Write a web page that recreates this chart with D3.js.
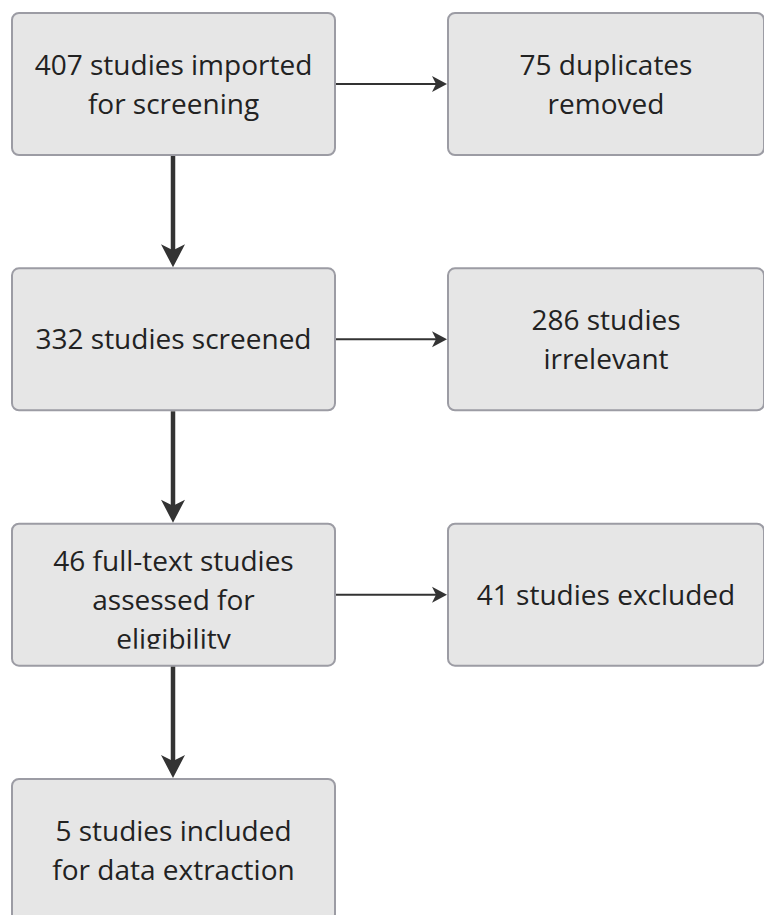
<!DOCTYPE html>
<html>
<head>
<meta charset="utf-8">
<script src="https://cdn.jsdelivr.net/npm/d3@7"></script>
<style>
  html, body { margin: 0; padding: 0; background: #ffffff; }
  svg { display: block; }
</style>
</head>
<body>
<div id="chart"></div>
<script>
// ---- data ----
const mainLabels = [
  ["407 studies imported", "for screening"],
  ["332 studies screened"],
  ["46 full-text studies", "assessed for", "eligibility"],
  ["5 studies included", "for data extraction"]
];
const sideLabels = [
  ["75 duplicates", "removed"],
  ["286 studies", "irrelevant"],
  ["41 studies excluded"]
];
const stageIndex = [0, 1, 2, 3];
const columns = ["main", "side"];

// ---- layout ----
const W = 764, H = 915;
const boxH = 142;
const rowY = d3.scaleLinear().domain([0, 3]).range([13, 779]);
const colX = d3.scaleOrdinal().domain(columns).range([12, 448]);
const colW = d3.scaleOrdinal().domain(columns).range([323, 316]);

const fontSize = 28, lineH = 39;

const svg = d3.select("#chart").append("svg")
  .attr("width", W).attr("height", H)
  .style("font-family", "'Open Sans', 'Noto Sans', sans-serif");

const defs = svg.append("defs");

function drawBox(g, col, i, lines) {
  const x = colX(col), y = rowY(i), w = colW(col);
  g.append("rect")
    .attr("x", x).attr("y", y).attr("width", w).attr("height", boxH)
    .attr("rx", 7).attr("ry", 7)
    .attr("fill", "#e6e6e6").attr("stroke", "#9c9ca4").attr("stroke-width", 2);
  const id = `clip-${col}-${i}`;
  defs.append("clipPath").attr("id", id).append("rect")
    .attr("x", x).attr("y", y + 4).attr("width", w).attr("height", boxH - 21);
  const cy = y + boxH / 2;
  const n = lines.length;
  const t = g.append("text")
    .attr("clip-path", `url(#${id})`)
    .attr("text-anchor", "middle")
    .attr("font-size", fontSize)
    .attr("fill", "#222222");
  lines.forEach((ln, k) => {
    const base = cy + (k - (n - 1) / 2) * lineH + fontSize * 0.36 + (n === 3 ? 5 : 0);
    t.append("tspan").attr("x", x + w / 2).attr("y", base).text(ln);
  });
}

const boxes = svg.append("g");
stageIndex.forEach(i => drawBox(boxes, "main", i, mainLabels[i]));
sideLabels.forEach((lines, i) => drawBox(boxes, "side", i, lines));

// ---- arrows ----
const arrows = svg.append("g").attr("fill", "#333333").attr("stroke", "#333333");
const cxMain = colX("main") + 161;

// vertical arrows between main boxes
stageIndex.slice(0, -1).forEach(i => {
  const y0 = rowY(i) + boxH + 1;
  const y1 = rowY(i + 1) - 1;
  arrows.append("line")
    .attr("x1", cxMain).attr("x2", cxMain).attr("y1", y0).attr("y2", y1 - 12)
    .attr("stroke-width", 4.5);
  arrows.append("path")
    .attr("stroke", "none")
    .attr("d", `M${cxMain},${y1} L${cxMain - 12},${y1 - 23} L${cxMain},${y1 - 17} L${cxMain + 12},${y1 - 23} Z`);
});

// horizontal arrows to side boxes
sideLabels.forEach((_, i) => {
  const yc = rowY(i) + boxH / 2;
  const x0 = colX("main") + colW("main") + 1;
  const x1 = colX("side") - 1;
  arrows.append("line")
    .attr("x1", x0).attr("x2", x1 - 8).attr("y1", yc).attr("y2", yc)
    .attr("stroke-width", 2);
  arrows.append("path")
    .attr("stroke", "none")
    .attr("d", `M${x1},${yc} L${x1 - 15},${yc - 8} L${x1 - 11},${yc} L${x1 - 15},${yc + 8} Z`);
});
</script>
</body>
</html>
